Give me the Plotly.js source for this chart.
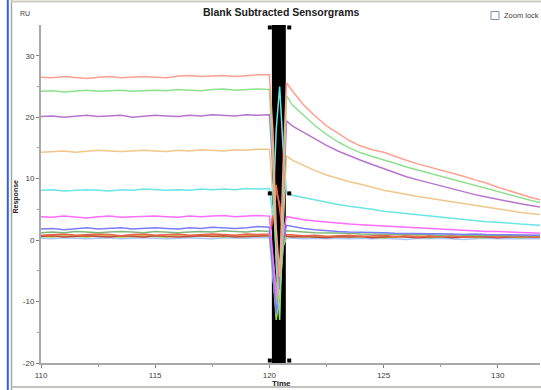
<!DOCTYPE html>
<html>
<head>
<meta charset="utf-8">
<script src="https://cdn.plot.ly/plotly-3.0.1.min.js"></script>
<style>html,body{margin:0;padding:0;background:#fff;}#chart{width:541px;height:390px;}</style>
</head>
<body>
<div id="chart"></div>
<script>
// Time axis (s): baseline, injection spike, dissociation
var time = [110,110.5,111,111.5,112,112.5,113,113.5,114,114.5,115,115.5,116,116.5,117,117.5,118,118.5,119,119.5,120,
  120.15,120.3,120.45,120.6,
  120.75,121,121.5,122,122.5,123,123.5,124,124.5,125,125.5,126,126.5,127,127.5,128,128.5,129,129.5,130,130.5,131,131.5,132];

var sSalmon = [26.5,26.4,26.6,26.5,26.3,26.5,26.6,26.4,26.5,26.6,26.5,26.4,26.7,26.8,26.6,26.7,26.8,26.6,26.8,26.9,26.9,
  18,2,-6,12,
  25.6,24.3,22.0,20.2,18.6,17.4,16.2,15.3,14.7,14.3,13.6,13.0,12.4,11.9,11.5,10.9,10.4,9.8,9.3,8.6,8.0,7.5,6.9,6.4];
var sGreen = [24.2,24.3,24.1,24.3,24.4,24.2,24.3,24.4,24.2,24.3,24.4,24.3,24.5,24.4,24.3,24.5,24.6,24.4,24.5,24.6,24.5,
  14,-4,-13,6,
  23.5,22.0,20.3,18.6,17.2,16.0,15.0,14.2,13.6,13.1,12.5,11.9,11.4,10.8,10.3,9.8,9.3,8.8,8.3,7.8,7.3,6.9,6.4,6.0];
var sPurple = [20.1,20.2,20.0,20.2,20.3,20.1,20.2,20.3,20.0,20.2,20.3,20.2,20.1,20.3,20.2,20.4,20.3,20.2,20.4,20.3,20.4,
  12,0,-8,5,
  19.4,18.6,17.5,16.4,15.4,14.5,13.7,13.0,12.3,11.6,11.0,10.3,9.8,9.3,8.8,8.3,7.8,7.4,7.0,6.6,6.2,5.9,5.6,5.3];
var sTan = [14.3,14.4,14.5,14.3,14.4,14.6,14.5,14.4,14.5,14.6,14.5,14.4,14.6,14.5,14.7,14.6,14.5,14.7,14.6,14.8,14.8,
  8,-2,-9,3,
  13.7,13.0,12.1,11.3,10.6,10.0,9.5,9.1,8.6,8.1,7.8,7.4,7.1,6.8,6.5,6.2,5.9,5.6,5.3,5.0,4.8,4.5,4.3,4.1];
var sCyan = [8.1,8.2,8.0,8.1,8.2,8.1,8.0,8.2,8.1,8.3,8.2,8.1,8.2,8.1,8.3,8.2,8.3,8.2,8.4,8.3,8.4,
  4,18,25,15,
  7.6,7.3,6.9,6.5,6.1,5.8,5.5,5.3,5.0,4.7,4.5,4.3,4.1,3.9,3.7,3.5,3.3,3.2,3.0,2.9,2.7,2.6,2.5,2.4];
var sMagenta = [3.8,3.7,3.9,3.8,3.6,3.8,3.9,3.7,3.8,3.8,3.9,3.8,3.7,3.9,3.8,3.9,4.0,3.8,3.9,4.0,3.9,
  -2,-9,-5,1,
  3.8,3.6,3.3,3.1,2.9,2.8,2.6,2.5,2.4,2.3,2.2,2.0,1.9,1.8,1.8,1.7,1.6,1.5,1.4,1.4,1.3,1.2,1.2,1.1];
var sBlue = [1.8,1.9,1.7,1.9,2.0,1.8,1.9,2.0,1.8,1.9,2.0,1.9,1.8,2.0,1.9,2.1,2.0,1.9,2.0,2.2,2.1,
  -5,-12,-7,0,
  2.4,2.2,1.9,1.7,1.5,1.4,1.3,1.3,1.2,1.2,1.1,1.1,1.0,1.1,1.0,1.0,0.9,1.0,0.9,0.9,0.9,0.8,0.9,0.8];
var sDkGreen = [1.2,1.3,1.2,1.4,1.3,1.2,1.3,1.4,1.3,1.2,1.4,1.3,1.2,1.3,1.4,1.3,1.5,1.4,1.3,1.5,1.4,
  -3,-8,-4,1,
  1.5,1.4,1.3,1.2,1.2,1.1,1.1,1.0,1.0,0.9,1.0,0.9,0.9,0.9,0.8,0.9,0.8,0.8,0.8,0.7,0.8,0.7,0.7,0.7];
var sRed = [0.8,0.9,1.0,0.8,0.9,1.0,0.9,0.7,0.9,1.0,0.8,0.9,1.0,0.8,0.9,1.0,0.9,0.8,1.0,0.9,1.0,
  4,9,5,1,
  0.9,0.8,0.7,0.8,0.6,0.7,0.8,0.6,0.7,0.8,0.6,0.7,0.5,0.7,0.6,0.7,0.5,0.6,0.7,0.5,0.6,0.7,0.5,0.6];
var sOrange = [0.7,0.6,0.8,0.7,0.6,0.8,0.7,0.6,0.7,0.8,0.7,0.6,0.8,0.7,0.8,0.7,0.6,0.8,0.7,0.8,0.8,
  -4,-10,-6,0,
  0.8,0.7,0.6,0.7,0.6,0.5,0.6,0.7,0.5,0.6,0.5,0.6,0.7,0.5,0.6,0.5,0.6,0.5,0.6,0.5,0.6,0.5,0.6,0.5];
var sLtBlue = [0.3,0.2,0.4,0.3,0.2,0.3,0.4,0.2,0.3,0.4,0.3,0.2,0.3,0.4,0.3,0.2,0.4,0.3,0.3,0.4,0.4,
  -6,-11,-8,-1,
  0.4,0.3,0.2,0.3,0.2,0.3,0.2,0.3,0.2,0.3,0.2,0.1,0.3,0.2,0.3,0.2,0.1,0.2,0.3,0.2,0.2,0.3,0.2,0.2];
var sLime = [0.6,0.5,0.7,0.6,0.5,0.7,0.6,0.5,0.6,0.7,0.6,0.5,0.7,0.6,0.7,0.6,0.5,0.7,0.6,0.7,0.7,
  -5,-13,-9,-1,
  0.7,0.6,0.5,0.6,0.5,0.6,0.5,0.6,0.5,0.4,0.5,0.6,0.5,0.4,0.5,0.6,0.5,0.4,0.5,0.6,0.5,0.4,0.5,0.5];
var sDkRed = [0.6,0.7,0.5,0.6,0.7,0.6,0.5,0.7,0.6,0.5,0.7,0.6,0.5,0.6,0.7,0.6,0.7,0.5,0.6,0.7,0.7,
  3,8,6,2,
  0.6,0.5,0.6,0.5,0.4,0.6,0.5,0.6,0.4,0.5,0.6,0.5,0.4,0.5,0.6,0.4,0.5,0.6,0.5,0.4,0.5,0.6,0.5,0.5];

var seriesList = [sLtBlue, sLime, sOrange, sDkRed, sRed, sDkGreen, sBlue, sMagenta, sCyan, sTan, sPurple, sGreen, sSalmon];
var seriesColors = ['#a9c6ff','#9ad84a','#f2a860','#b8503a','#e8664a','#7cb87c','#7c7cff','#ff6cff','#6ae6e6','#f0c68a','#b874cc','#8ee08e','#ffa090'];

// injection bar and its report-point markers
var barTime = [120.11, 120.72];
var markT = [120.02,120.87,120.02,120.87,120.02,120.87];
var markY = [34.6,34.6,7.6,7.6,-19.6,-19.6];

var traces = seriesList.map(function(s,i){
  return {x: time, y: s, type:'scatter', mode:'lines', hoverinfo:'skip',
          line:{color: seriesColors[i], width:1.5}, showlegend:false};
});
traces.push({x: markT, y: markY, type:'scatter', mode:'markers', showlegend:false,
  marker:{symbol:'square', size:4, color:'#000'}, cliponaxis:false});

var L=41, T=25, W=499, H=338;
function xp(px){return (px-L)/W;}
function yp(py){return (T+H-py)/H;}

var layout = {
  width:541, height:390,
  margin:{l:41, r:1, t:25, b:27, pad:0},
  paper_bgcolor:'#ffffff', plot_bgcolor:'#ffffff',
  font:{family:'"Liberation Sans", Arial, sans-serif', size:8, color:'#404040'},
  showlegend:false,
  xaxis:{range:[110,131.85], showgrid:false, zeroline:false, showline:true, linecolor:'#a8a8a8', linewidth:2,
    tickvals:[110,115,120,125,130], ticktext:['110','115','120','125','130'],
    ticks:'outside', ticklen:3, tickcolor:'#808080', tickwidth:1,
    minor:{tickvals:[112.5,117.5,122.5,127.5], ticks:'outside', ticklen:2, tickcolor:'#a0a0a0'},
    tickfont:{size:8, color:'#404040'}},
  yaxis:{range:[-20,35], showgrid:false, zeroline:false, showline:true, linecolor:'#a8a8a8', linewidth:2,
    tickvals:[-20,-10,0,10,20,30], ticktext:['-20','-10','0','10','20','30'],
    ticks:'outside', ticklen:3, tickcolor:'#808080', tickwidth:1,
    minor:{tickvals:[-15,-5,5,15,25], ticks:'outside', ticklen:2, tickcolor:'#a0a0a0'},
    tickfont:{size:8, color:'#404040'}},
  shapes:[
    {type:'rect', xref:'x', yref:'paper', x0:barTime[0], x1:barTime[1], y0:0, y1:1, fillcolor:'#000', line:{width:0}, layer:'below'},
    {type:'line', xref:'paper', yref:'paper', x0:xp(7.8), x1:xp(7.8), y0:yp(0), y1:yp(390), line:{color:'#2f62d8', width:2}},
    {type:'line', xref:'paper', yref:'paper', x0:xp(11.5), x1:xp(11.5), y0:yp(0), y1:yp(390), line:{color:'#a9a9a2', width:1.5}},
    {type:'line', xref:'paper', yref:'paper', x0:xp(11), x1:xp(541), y0:yp(1.5), y1:yp(1.5), line:{color:'#cfcbbf', width:2}},
    {type:'line', xref:'paper', yref:'paper', x0:xp(11), x1:xp(541), y0:yp(387), y1:yp(387), line:{color:'#b0b0aa', width:1.5}},
    {type:'rect', xref:'paper', yref:'paper', x0:xp(491), x1:xp(499), y0:yp(19.5), y1:yp(11.5), fillcolor:'#ffffff', line:{color:'#7a90b8', width:1}}
  ],
  annotations:[
    {text:'<b>Blank Subtracted Sensorgrams</b>', xref:'paper', yref:'paper', x:xp(281), y:yp(12.5), showarrow:false,
      xanchor:'center', yanchor:'middle', font:{size:10.5, color:'#202020'}},
    {text:'RU', xref:'paper', yref:'paper', x:xp(24.5), y:yp(13.5), showarrow:false, xanchor:'center', yanchor:'middle',
      font:{size:7, color:'#404040'}},
    {text:'Zoom lock', xref:'paper', yref:'paper', x:xp(502), y:yp(15.5), showarrow:false, xanchor:'left', yanchor:'middle',
      font:{size:7.5, color:'#404040'}},
    {text:'<b>Time</b>', xref:'paper', yref:'paper', x:xp(281), y:yp(383), showarrow:false, xanchor:'center', yanchor:'middle',
      font:{size:8, color:'#202020'}},
    {text:'<b>Response</b>', xref:'paper', yref:'paper', x:xp(15.5), y:yp(197), showarrow:false, textangle:-90,
      xanchor:'center', yanchor:'middle', font:{size:7, color:'#202020'}}
  ]
};

Plotly.newPlot('chart', traces, layout, {displayModeBar:false, staticPlot:true});
</script>
</body>
</html>
